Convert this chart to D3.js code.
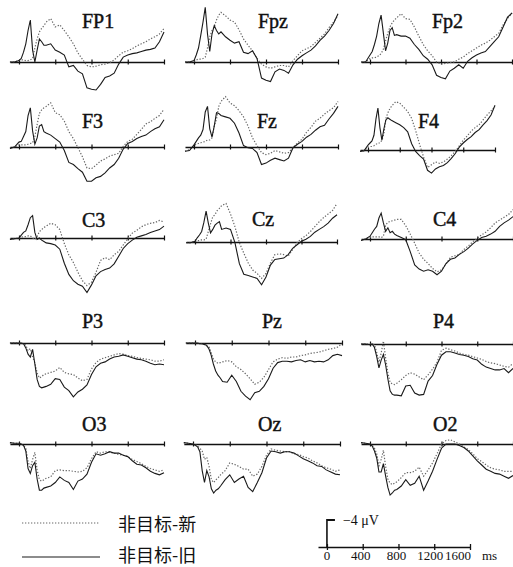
<!DOCTYPE html>
<html>
<head>
<meta charset="utf-8">
<script src="https://cdnjs.cloudflare.com/ajax/libs/d3/7.8.5/d3.min.js"></script>
<style>
  body { margin: 0; background: #fff; }
  svg { display: block; }
</style>
</head>
<body>
<script>
// 时间点 (ms)，前 300ms 采样更密
const times = [-100,-50,0,25,50,75,100,125,150,175,200,225,250,275,300,
  350,400,450,500,550,600,650,700,750,800,850,900,950,1000,1050,1100,1150,1200,1250,1300,1350,1400,1450,1500,1550,1600];

const channels = ["FP1","Fpz","Fp2","F3","Fz","F4","C3","Cz","C4","P3","Pz","P4","O3","Oz","O2"];
const seriesNames = ["非目标-新", "非目标-旧"];

// 振幅 (μV)，负值向上
const fp1New = [0,0,-0.2,-0.3,-0.3,-0.2,-0.2,-0.3,-0.5,-2.0,-3.3,-4.3,-4.8,-5.2,-5.7,-6.2,-5.0,-5.3,-4.5,-3.6,-2.6,-1.3,-0.4,0.5,0.7,0.6,0.4,0.3,0.1,-0.3,-0.9,-1.4,-1.6,-1.9,-2.3,-2.6,-2.9,-3.3,-3.6,-4.0,-4.8];
const fp1Old = [0,0,-0.2,-0.5,-1.4,-2.6,-4.5,-6.0,-1.7,0,-1.7,-3.3,-2.9,-2.4,-2.4,-2.6,-1.7,-1.4,-1.0,0.7,0.5,1.3,1.7,3.7,3.9,4.0,3.2,2.2,2.0,1.6,0.3,-0.7,-1.0,-1.2,-1.3,-1.5,-1.7,-1.8,-2.0,-2.9,-4.3];
const fpzNew = [0,0,-0.1,-0.3,-0.4,-0.4,-0.5,-0.7,-2.0,-3.6,-4.5,-5.0,-6.0,-6.7,-7.1,-6.6,-6.0,-5.7,-4.6,-3.3,-2.4,-1.6,-0.5,0.3,0.7,0.9,0.7,0.5,0.5,0.7,-0.2,-0.9,-1.6,-1.9,-2.2,-2.8,-3.4,-4.0,-4.9,-5.7,-6.6];
const fpzOld = [0,0,-0.2,-1.0,-2.0,-3.8,-5.7,-7.8,-4.0,-1.5,-4.0,-5.2,-4.5,-4.0,-4.3,-3.6,-3.1,-2.7,-2.9,-1.4,-1.2,-1.6,-0.5,2.3,2.6,2.8,1.4,1.0,1.2,1.6,0.4,-0.4,-0.9,-1.3,-1.7,-2.3,-3.1,-3.7,-4.5,-5.5,-6.9];
const fp2New = [0,0,-0.5,-0.6,-0.6,-0.7,-0.9,-1.2,-1.8,-3.0,-4.1,-5.0,-5.6,-6.0,-6.3,-6.9,-6.2,-6.1,-5.0,-3.7,-2.5,-1.6,-0.9,0,0.3,0.2,0.1,0,-0.4,-0.7,-1.2,-1.6,-2.0,-2.4,-2.7,-3.1,-3.6,-4.1,-5.3,-6.2,-7.0];
const fp2Old = [0,0,-1.0,-1.5,-2.5,-3.7,-5.5,-6.7,-4.2,-1.6,-2.7,-4.5,-4.9,-3.8,-3.9,-3.7,-3.7,-3.4,-2.5,-1.8,-0.9,-0.4,0.4,1.9,2.2,2.4,1.3,0.9,0.4,0.9,-0.1,-0.6,-1.0,-1.3,-1.5,-2.2,-2.9,-3.6,-5.0,-6.4,-7.0];
const f3New = [0.2,0,-0.3,-0.3,-0.3,-0.3,-0.4,-0.5,-0.6,-1.5,-3.2,-4.8,-5.3,-5.6,-5.8,-6.3,-4.9,-4.6,-3.7,-2.2,-1.2,0.1,1.4,3.0,3.1,2.6,2.0,1.7,1.3,1.1,0.9,-0.1,-0.8,-1.1,-1.8,-2.5,-3.3,-3.6,-4.1,-4.5,-5.4];
const f3Old = [0.2,0,-0.7,-0.8,-1.5,-2.2,-4.5,-5.6,-2.3,-0.4,-1.3,-3.0,-3.2,-2.2,-2.0,-1.7,-1.2,-0.7,0.5,2.2,2.5,3.1,3.6,4.9,4.9,4.4,4.2,3.7,3.0,2.5,1.6,0.3,-0.5,-0.8,-1.2,-1.5,-1.7,-2.2,-2.6,-2.9,-3.9];
const fzNew = [0.6,0.4,-0.2,-0.4,-0.5,-0.6,-0.7,-0.8,-1.0,-1.0,-1.3,-3.0,-4.0,-5.8,-6.5,-7.2,-6.3,-5.9,-5.2,-4.3,-3.0,-1.3,-0.2,0.8,1.1,0.9,0.5,0.7,0.9,0.8,0.1,-0.6,-1.1,-2.1,-2.8,-3.7,-4.1,-4.7,-5.2,-5.6,-6.5];
const fzOld = [0.6,0.5,-0.3,-0.8,-1.3,-1.7,-2.5,-5.0,-5.8,-2.6,-1.4,-3.0,-4.9,-4.8,-4.5,-4.3,-4.1,-3.4,-2.0,-0.2,0.1,0.2,0.8,2.5,2.3,1.9,1.6,1.8,2.0,1.6,0.1,-0.4,-0.8,-1.4,-1.8,-2.4,-2.9,-3.1,-4.0,-4.8,-5.8];
const f4New = [0.2,0.1,-0.4,-0.5,-0.5,-0.6,-0.8,-1.0,-1.0,-1.4,-2.3,-4.5,-5.3,-5.9,-6.3,-6.9,-6.7,-6.1,-5.5,-4.5,-2.8,-0.8,1.0,2.5,2.1,1.7,1.9,1.7,1.3,0.8,0.2,-0.6,-1.4,-2.0,-2.7,-3.2,-3.6,-4.3,-5.0,-5.6,-6.2];
const f4Old = [0.2,0.1,-0.7,-1.0,-1.3,-2.1,-4.4,-6.0,-3.2,-1.4,-3.0,-4.3,-4.6,-4.4,-4.2,-3.9,-3.6,-3.2,-2.6,-0.9,0.2,0.8,1.3,2.9,3.3,2.7,2.4,2.2,1.8,1.2,0.5,-0.4,-1.0,-1.5,-1.9,-2.5,-2.9,-3.6,-4.2,-5.0,-6.4];
const c3New = [0.2,0.1,0,-0.1,-0.2,-0.2,-0.3,-0.3,0,0.2,-0.2,-0.9,-1.2,-1.5,-1.7,-2.1,-1.9,-1.2,0.8,2.4,3.5,4.9,6.1,6.8,6.3,4.9,3.2,2.8,3.1,2.4,1.9,1.0,0.1,-0.7,-1.1,-1.6,-1.9,-2.1,-2.2,-2.5,-2.3];
const c3Old = [0.2,0.1,0,-0.4,-0.8,-1.0,-1.9,-2.9,-3.2,-0.8,0.2,0,0.3,0.5,0.7,0.8,1.0,1.6,3.6,5.2,6.1,6.6,6.9,7.8,6.7,5.4,4.8,4.5,4.3,3.7,2.6,1.5,0.8,0.3,-0.1,-0.3,-0.5,-0.8,-1.0,-1.2,-1.7];
const czNew = [0.1,0.1,-0.1,-0.2,-0.2,-0.3,-0.3,-0.4,-1.5,-2.6,-3.6,-3.9,-4.5,-4.8,-5.2,-5.5,-4.0,-2.2,0.1,1.6,3.0,4.0,4.5,5.2,4.5,3.0,1.8,1.7,1.8,2.0,1.1,0.1,-0.5,-0.9,-1.5,-2.2,-2.9,-3.5,-4.0,-4.5,-5.5];
const czOld = [0.1,0.1,-0.1,-0.6,-1.0,-1.5,-2.8,-4.4,-2.7,-1.3,-1.8,-2.4,-2.7,-2.9,-1.8,-2.0,-1.8,0.1,3.1,4.6,4.8,5.0,5.2,6.1,5.0,3.3,2.5,2.4,2.3,1.8,0.9,0.4,-0.1,-0.4,-0.8,-1.4,-1.8,-2.2,-2.7,-3.4,-3.9];
const c4New = [0.2,0,-0.2,-0.3,-0.3,-0.3,-0.3,-0.2,-0.4,-2.0,-2.4,-2.5,-2.6,-2.7,-2.8,-2.8,-1.9,-0.7,0.6,2.0,2.9,3.5,4.2,4.7,4.4,3.6,2.6,2.4,2.2,1.5,1.0,0.4,-0.1,-0.6,-1.0,-1.6,-2.3,-2.7,-3.1,-3.5,-4.2];
const c4Old = [0.2,0,-0.4,-0.9,-1.4,-1.8,-3.0,-3.7,-2.3,-1.1,-1.6,-0.9,-1.1,-0.7,-0.5,-0.2,0.1,1.8,3.7,4.3,4.6,4.4,4.6,5.1,4.6,3.5,2.9,2.7,2.2,1.8,1.3,0.7,0.2,-0.2,-0.4,-0.7,-1.1,-1.8,-2.3,-2.7,-3.2];
const p3New = [0,0,0,0.1,0.1,0.3,1.1,0.8,2.0,2.8,4.3,5.0,4.8,4.5,4.4,4.2,4.0,3.5,4.2,4.4,4.5,5.0,5.4,5.2,3.7,2.8,2.3,2.1,1.9,1.7,1.5,1.6,1.8,1.9,2.1,2.2,2.3,2.4,2.6,2.6,2.4];
const p3Old = [0,0,0,0,0.1,0.7,1.6,2.0,0.9,3.0,5.2,6.2,6.4,6.3,6.2,5.9,5.1,5.2,6.3,6.8,7.7,7.0,6.6,6.0,4.5,3.4,2.9,2.7,2.3,2.0,1.9,1.7,1.9,2.1,2.3,2.4,2.6,2.9,3.1,3.0,3.1];
const pzNew = [0,0,0,0,0.1,0.1,0.2,0.4,0.5,1.3,2.3,2.7,2.9,2.8,2.7,2.5,2.7,3.4,3.8,4.4,5.1,5.9,5.6,4.9,3.8,2.7,2.3,2.1,2.2,2.0,2.0,1.8,1.7,1.5,1.4,1.3,1.1,0.9,0.8,0.6,0.1];
const pzOld = [0,0,0,0,0.1,0.1,0.2,0.3,0.8,1.7,3.0,4.0,4.6,5.0,5.5,5.6,4.6,5.5,6.9,7.6,8.1,7.1,6.9,6.2,5.1,3.6,2.8,2.6,2.6,2.7,2.5,2.4,2.7,2.5,2.7,2.6,2.7,2.4,1.8,1.6,1.8];
const p4New = [0,0,0,0,0.1,1.2,2.6,1.3,-0.4,2.0,4.1,5.5,5.7,5.8,5.6,5.1,4.5,4.1,4.3,4.7,5.1,4.4,3.6,2.6,0.9,0.6,0.8,1.0,1.3,1.5,1.6,1.8,2.0,2.2,2.5,2.7,2.8,3.0,3.2,3.3,2.8];
const p4Old = [0,0,0.1,0,0.5,1.8,3.4,2.3,1.5,3.0,5.0,6.7,7.2,7.3,7.3,7.4,6.0,5.9,7.0,7.3,7.2,5.3,4.5,2.9,1.6,1.1,1.1,1.3,1.5,1.6,1.8,2.1,2.3,2.9,3.3,3.5,3.7,3.7,3.5,4.1,3.5];
const o3New = [-0.2,-0.1,-0.1,0,0.2,0.6,2.5,3.5,2.2,1.2,3.7,5.1,5.3,5.1,4.9,4.7,3.8,3.7,3.8,3.8,3.9,4.0,3.9,3.4,2.1,1.1,1.3,1.1,1.2,1.3,1.5,1.6,1.8,2.2,2.5,2.8,3.2,3.5,3.7,3.9,3.7];
const o3Old = [-0.2,-0.1,-0.1,0,0.2,1.0,3.5,4.2,3.1,2.6,5.0,6.6,6.6,6.3,6.2,6.0,5.5,4.7,5.2,5.5,6.5,5.3,5.0,4.3,2.6,1.4,1.6,1.4,1.1,1.3,1.3,1.6,1.8,2.4,2.9,3.0,3.4,3.9,4.2,4.4,4.1];
const ozNew = [-0.2,-0.1,0,0.1,0.3,0.6,1.0,2.2,1.9,3.2,5.1,5.5,5.1,4.8,4.4,3.8,2.7,2.9,3.2,3.6,3.6,4.6,4.3,3.2,1.6,0.7,0.9,1.0,1.1,1.1,1.4,1.5,1.8,2.0,2.4,2.7,3.1,3.4,3.6,3.9,3.7];
const ozOld = [-0.2,-0.1,0,0.2,0.4,1.1,3.8,5.5,3.8,4.7,6.4,7.0,6.6,6.4,6.0,5.1,4.4,5.5,5.0,4.6,6.2,6.8,5.5,4.1,2.0,1.0,1.1,1.3,1.1,1.1,1.3,1.7,2.1,2.4,2.7,3.1,3.2,3.7,4.0,4.3,4.4];
const o2New = [-0.2,-0.1,0,0.2,0.6,1.4,3.1,2.2,0.9,3.2,5.0,5.6,5.8,5.6,5.4,4.8,4.1,4.1,3.9,3.3,4.6,3.7,2.7,1.4,0,-0.5,-0.6,-0.3,0,0.4,0.8,1.4,2.1,2.5,3.0,3.4,3.6,3.7,3.9,3.9,3.9];
const o2Old = [-0.2,-0.1,0,0.3,1.0,2.0,4.0,4.0,2.8,4.6,6.2,7.3,7.0,6.6,6.5,6.0,5.1,5.9,5.6,4.6,6.6,5.3,3.9,2.2,0.6,0,0,0,0.2,0.5,1.0,1.7,2.4,3.0,3.6,3.9,4.2,4.3,4.6,4.9,4.5];

const newData = [fp1New, fpzNew, fp2New, f3New, fzNew, f4New, c3New, czNew, c4New, p3New, pzNew, p4New, o3New, ozNew, o2New];
const oldData = [fp1Old, fpzOld, fp2Old, f3Old, fzOld, f4Old, c3Old, czOld, c4Old, p3Old, pzOld, p4Old, o3Old, ozOld, o2Old];

const axisTicks = [0, 400, 800, 1200, 1600];

// 每个小图的位置：0ms 与 1600ms 的 x，基线 y，标题位置
const layout = [
  {x0: 19,  x1: 164, base: 62,  tx: 82,  ty: 28},
  {x0: 194, x1: 338, base: 62,  tx: 258, ty: 28},
  {x0: 370, x1: 512, base: 62,  tx: 432, ty: 28},
  {x0: 19,  x1: 164, base: 147, tx: 82,  ty: 128},
  {x0: 194, x1: 338, base: 147, tx: 257, ty: 128},
  {x0: 368, x1: 495, base: 150, tx: 418, ty: 128},
  {x0: 19,  x1: 164, base: 238, tx: 82,  ty: 227},
  {x0: 195, x1: 337, base: 242, tx: 252, ty: 226},
  {x0: 370, x1: 513, base: 239, tx: 433, ty: 226},
  {x0: 19,  x1: 164, base: 343, tx: 82,  ty: 328},
  {x0: 195, x1: 342, base: 343, tx: 262, ty: 328},
  {x0: 370, x1: 513, base: 344, tx: 433, ty: 328},
  {x0: 19,  x1: 164, base: 444, tx: 82,  ty: 431},
  {x0: 193, x1: 340, base: 444, tx: 258, ty: 431},
  {x0: 370, x1: 513, base: 444, tx: 433, ty: 431}
];
const pxPerUV = 7;

const svg = d3.select("body").append("svg")
  .attr("width", 513)
  .attr("height", 567);

svg.append("rect").attr("width", 513).attr("height", 567).attr("fill", "#fff");

channels.forEach((name, i) => {
  const p = layout[i];
  const k = (p.x1 - p.x0) / 1600;
  const x = d3.scaleLinear().domain([-100, 1600]).range([p.x0 - 100 * k, p.x1]);
  const y = d3.scaleLinear().domain([-4, 0]).range([p.base - 4 * pxPerUV, p.base]);

  const g = svg.append("g");

  const ax = g.append("g")
    .attr("transform", `translate(0,${p.base})`)
    .call(d3.axisBottom(x).tickValues(axisTicks).tickSize(3).tickSizeOuter(0).tickFormat(""));
  ax.select(".domain").attr("stroke", "#111").attr("stroke-width", 1.3);
  ax.selectAll(".tick line").attr("y1", -2.5).attr("y2", 2.5).attr("stroke", "#111").attr("stroke-width", 1.2);

  const line = d3.line()
    .x((d, j) => x(times[j]))
    .y(d => y(d));

  g.append("path")
    .datum(newData[i])
    .attr("fill", "none")
    .attr("stroke", "#666")
    .attr("stroke-width", 1.2)
    .attr("stroke-dasharray", "1.3,1.7")
    .attr("d", line);

  g.append("path")
    .datum(oldData[i])
    .attr("fill", "none")
    .attr("stroke", "#1a1a1a")
    .attr("stroke-width", 1.1)
    .attr("d", line);

  g.append("text")
    .attr("x", p.tx)
    .attr("y", p.ty)
    .style("font-family", "'Liberation Serif', 'DejaVu Serif', serif")
    .style("font-size", "20px")
    .attr("fill", "#111")
    .attr("stroke", "#111")
    .attr("stroke-width", 0.45)
    .text(name);
});

// 图例
const legend = svg.append("g");
[[523, 523], [557, 554]].forEach(([ly, ty], i) => {
  legend.append("line")
    .attr("x1", 22).attr("x2", 100).attr("y1", ly).attr("y2", ly)
    .attr("stroke", i === 0 ? "#666" : "#1a1a1a")
    .attr("stroke-width", 1.1)
    .attr("stroke-dasharray", i === 0 ? "1.3,1.7" : null);
  legend.append("text")
    .attr("x", 118).attr("y", ty)
    .attr("dominant-baseline", "central")
    .style("font-family", "'Noto Sans CJK SC', sans-serif")
    .style("font-size", "18px")
    .attr("fill", "#111")
    .text(seriesNames[i]);
});

// 比例尺
const sx = d3.scaleLinear().domain([-100, 1600]).range([318, 470]);
const sy = d3.scaleLinear().domain([-4, 0]).range([547 - 4 * pxPerUV, 547]);
const scale = svg.append("g");
const sax = scale.append("g")
  .attr("transform", "translate(0,547)")
  .call(d3.axisBottom(sx).tickValues(axisTicks).tickSize(3).tickSizeOuter(0).tickFormat(""));
sax.select(".domain").attr("stroke", "#111").attr("stroke-width", 1.4);
sax.selectAll(".tick line").attr("y1", -3).attr("y2", 3).attr("stroke", "#111").attr("stroke-width", 1.3);

scale.append("line")
  .attr("x1", sx(0)).attr("x2", sx(0)).attr("y1", sy(-4)).attr("y2", sy(0))
  .attr("stroke", "#111").attr("stroke-width", 1.6);
scale.append("line")
  .attr("x1", sx(0)).attr("x2", sx(0) + 8).attr("y1", sy(-4) + 1).attr("y2", sy(-4) + 1)
  .attr("stroke", "#111").attr("stroke-width", 2);
scale.append("text")
  .attr("x", sx(0) + 16).attr("y", sy(-4) + 6)
  .style("font-family", "'Liberation Serif', serif")
  .style("font-size", "14px")
  .attr("fill", "#111")
  .text("−4 μV");

const labelShift = [0, -2, -2, -4, -12];
axisTicks.forEach((t, i) => {
  scale.append("text")
    .attr("x", sx(t) + labelShift[i]).attr("y", 560)
    .attr("text-anchor", "middle")
    .style("font-family", "'Liberation Serif', serif")
    .style("font-size", "13px")
    .attr("fill", "#111")
    .text(t);
});
scale.append("text")
  .attr("x", 482).attr("y", 560)
  .style("font-family", "'Liberation Serif', serif")
  .style("font-size", "13px")
  .attr("fill", "#111")
  .text("ms");
</script>
</body>
</html>
